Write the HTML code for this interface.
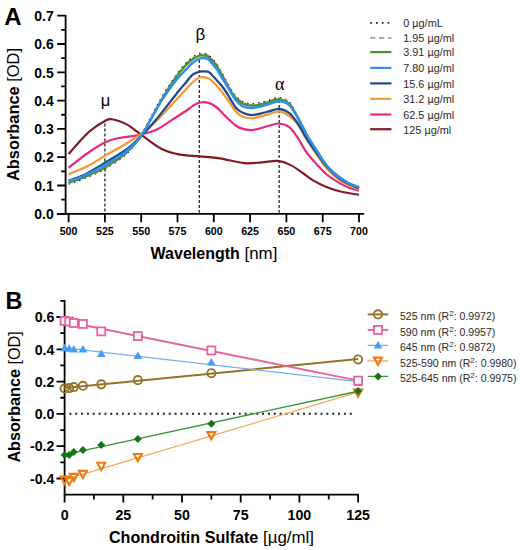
<!DOCTYPE html>
<html><head><meta charset="utf-8"><title>Absorbance spectra</title>
<style>html,body{margin:0;padding:0;background:#fff;width:520px;height:550px;overflow:hidden}svg{display:block}</style>
</head><body>
<svg width="520" height="550" viewBox="0 0 520 550" font-family='"Liberation Sans", sans-serif'><text x="4.2" y="24.7" font-size="24" font-weight="bold">A</text>
<path d="M65.6,15 V214.7" stroke="#000" stroke-width="1.8" fill="none"/>
<path d="M57.2,213.80 H65.6 M57.2,185.50 H65.6 M57.2,157.20 H65.6 M57.2,128.90 H65.6 M57.2,100.60 H65.6 M57.2,72.30 H65.6 M57.2,44.00 H65.6 M57.2,15.70 H65.6 M61.2,199.65 H65.6 M61.2,171.35 H65.6 M61.2,143.05 H65.6 M61.2,114.75 H65.6 M61.2,86.45 H65.6 M61.2,58.15 H65.6 M61.2,29.85 H65.6" stroke="#000" stroke-width="1.8" fill="none"/>
<path d="M56.8,213.80 H364.2" stroke="#000" stroke-width="1.8" fill="none"/>
<path d="M68.60,213.80 V222.2 M104.90,213.80 V222.2 M141.20,213.80 V222.2 M177.50,213.80 V222.2 M213.80,213.80 V222.2 M250.10,213.80 V222.2 M286.40,213.80 V222.2 M322.70,213.80 V222.2 M359.00,213.80 V222.2" stroke="#000" stroke-width="1.8" fill="none"/>
<text x="53.8" y="219.00" font-size="14" font-weight="bold" text-anchor="end">0.0</text>
<text x="53.8" y="190.70" font-size="14" font-weight="bold" text-anchor="end">0.1</text>
<text x="53.8" y="162.40" font-size="14" font-weight="bold" text-anchor="end">0.2</text>
<text x="53.8" y="134.10" font-size="14" font-weight="bold" text-anchor="end">0.3</text>
<text x="53.8" y="105.80" font-size="14" font-weight="bold" text-anchor="end">0.4</text>
<text x="53.8" y="77.50" font-size="14" font-weight="bold" text-anchor="end">0.5</text>
<text x="53.8" y="49.20" font-size="14" font-weight="bold" text-anchor="end">0.6</text>
<text x="53.8" y="20.90" font-size="14" font-weight="bold" text-anchor="end">0.7</text>
<text x="68.60" y="235.4" font-size="10.7" font-weight="bold" text-anchor="middle">500</text>
<text x="104.90" y="235.4" font-size="10.7" font-weight="bold" text-anchor="middle">525</text>
<text x="141.20" y="235.4" font-size="10.7" font-weight="bold" text-anchor="middle">550</text>
<text x="177.50" y="235.4" font-size="10.7" font-weight="bold" text-anchor="middle">575</text>
<text x="213.80" y="235.4" font-size="10.7" font-weight="bold" text-anchor="middle">600</text>
<text x="250.10" y="235.4" font-size="10.7" font-weight="bold" text-anchor="middle">625</text>
<text x="286.40" y="235.4" font-size="10.7" font-weight="bold" text-anchor="middle">650</text>
<text x="322.70" y="235.4" font-size="10.7" font-weight="bold" text-anchor="middle">675</text>
<text x="359.00" y="235.4" font-size="10.7" font-weight="bold" text-anchor="middle">700</text>
<text x="150.6" y="259.3" font-size="16"><tspan font-weight="bold">Wavelength</tspan><tspan font-size="16.9"> [nm]</tspan></text>
<text transform="translate(18.8,181) rotate(-90)" x="0" y="0" font-size="16.4"><tspan font-weight="bold">Absorbance</tspan> [OD]</text>
<path d="M104.90,123.5 V212.8" stroke="#000" stroke-width="1.1" stroke-dasharray="3 2" fill="none"/>
<path d="M199.28,60.0 V212.8" stroke="#000" stroke-width="1.1" stroke-dasharray="3 2" fill="none"/>
<path d="M279.14,100.0 V212.8" stroke="#000" stroke-width="1.1" stroke-dasharray="3 2" fill="none"/>
<path d="M68.60,183.80 C71.02,182.95 77.07,181.21 83.12,178.71 C89.17,176.21 97.64,173.00 104.90,168.80 C112.16,164.61 120.63,159.23 126.68,153.52 C132.73,147.81 137.09,140.69 141.20,134.56 C145.31,128.43 147.73,123.24 151.36,116.73 C154.99,110.22 158.62,102.72 162.98,95.51 C167.34,88.29 173.63,78.81 177.50,73.43 C181.37,68.06 183.79,65.84 186.21,63.24 C188.63,60.65 190.08,59.33 192.02,57.87 C193.96,56.40 196.25,55.18 197.83,54.47 C199.40,53.76 199.88,53.62 201.46,53.62 C203.03,53.62 205.69,53.81 207.27,54.47 C208.84,55.13 209.42,56.12 210.90,57.58 C212.37,59.05 214.67,61.31 216.12,63.24 C217.58,65.18 217.33,65.13 219.61,69.19 C221.88,73.24 227.11,83.10 229.77,87.58 C232.43,92.06 233.40,93.67 235.58,96.07 C237.76,98.48 240.18,100.69 242.84,102.02 C245.50,103.34 248.65,103.85 251.55,104.00 C254.46,104.14 257.36,103.43 260.26,102.86 C263.17,102.30 265.83,101.45 268.98,100.60 C272.12,99.75 275.75,97.49 279.14,97.77 C282.53,98.05 286.16,98.85 289.30,102.30 C292.45,105.74 295.11,112.91 298.02,118.43 C300.92,123.95 303.58,129.84 306.73,135.41 C309.87,140.97 313.50,146.59 316.89,151.82 C320.28,157.06 323.43,162.53 327.06,166.82 C330.69,171.11 335.04,174.70 338.67,177.58 C342.30,180.45 345.45,182.34 348.84,184.09 C352.22,185.83 357.31,187.39 359.00,188.05" stroke="#111" stroke-width="1.80" fill="none" stroke-linejoin="round" stroke-dasharray="1.6 4"/>
<path d="M68.60,183.24 C71.02,182.39 77.07,180.64 83.12,178.14 C89.17,175.64 97.64,172.43 104.90,168.24 C112.16,164.04 120.63,158.47 126.68,152.96 C132.73,147.44 137.09,141.07 141.20,135.13 C145.31,129.18 147.73,123.81 151.36,117.30 C154.99,110.79 158.62,103.29 162.98,96.07 C167.34,88.86 173.63,79.38 177.50,74.00 C181.37,68.62 183.79,66.40 186.21,63.81 C188.63,61.22 190.08,59.90 192.02,58.43 C193.96,56.97 196.25,55.74 197.83,55.04 C199.40,54.33 199.88,54.19 201.46,54.19 C203.03,54.19 205.69,54.38 207.27,55.04 C208.84,55.70 209.42,56.69 210.90,58.15 C212.37,59.61 214.67,61.88 216.12,63.81 C217.58,65.74 217.33,65.70 219.61,69.75 C221.88,73.81 227.11,83.67 229.77,88.15 C232.43,92.63 233.40,94.23 235.58,96.64 C237.76,99.04 240.18,101.26 242.84,102.58 C245.50,103.90 248.65,104.42 251.55,104.56 C254.46,104.70 257.36,104.00 260.26,103.43 C263.17,102.86 265.83,102.02 268.98,101.17 C272.12,100.32 275.75,98.05 279.14,98.34 C282.53,98.62 286.16,99.52 289.30,102.86 C292.45,106.21 295.11,113.00 298.02,118.43 C300.92,123.85 303.58,129.84 306.73,135.41 C309.87,140.97 313.50,146.59 316.89,151.82 C320.28,157.06 323.43,162.53 327.06,166.82 C330.69,171.11 335.04,174.70 338.67,177.58 C342.30,180.45 345.45,182.34 348.84,184.09 C352.22,185.83 357.31,187.39 359.00,188.05" stroke="#9a9a9a" stroke-width="1.60" fill="none" stroke-linejoin="round" stroke-dasharray="4 3"/>
<path d="M68.60,154.09 C70.29,152.15 75.13,146.40 78.76,142.48 C82.39,138.57 86.02,134.18 90.38,130.60 C94.74,127.01 101.27,122.86 104.90,120.98 C108.53,119.09 108.53,118.71 112.16,119.28 C115.79,119.84 122.57,122.34 126.68,124.37 C130.79,126.40 134.18,129.56 136.84,131.45 C139.51,133.33 138.66,132.86 142.65,135.69 C146.64,138.52 154.75,145.31 160.80,148.43 C166.85,151.54 172.54,153.05 178.95,154.37 C185.37,155.69 192.50,155.69 199.28,156.35 C206.06,157.01 212.11,157.20 219.61,158.33 C227.11,159.46 237.27,162.48 244.29,163.14 C251.31,163.80 256.15,162.67 261.72,162.29 C267.28,161.92 272.85,160.41 277.69,160.88 C282.53,161.35 286.64,163.14 290.76,165.12 C294.87,167.11 298.74,170.27 302.37,172.77 C306.00,175.26 308.42,177.72 312.54,180.12 C316.65,182.53 322.22,185.26 327.06,187.20 C331.90,189.13 336.25,190.45 341.58,191.73 C346.90,193.00 356.10,194.32 359.00,194.84" stroke="#821a26" stroke-width="2.20" fill="none" stroke-linejoin="round"/>
<path d="M68.60,167.67 C71.75,165.27 81.43,157.44 87.48,153.24 C93.53,149.04 99.58,145.03 104.90,142.48 C110.22,139.94 113.85,139.18 119.42,137.96 C124.99,136.73 132.25,136.45 138.30,135.13 C144.35,133.81 150.15,132.53 155.72,130.03 C161.29,127.53 166.61,123.33 171.69,120.13 C176.77,116.92 182.10,113.52 186.21,110.79 C190.33,108.05 192.99,105.13 196.38,103.71 C199.76,102.30 203.39,101.87 206.54,102.30 C209.69,102.72 212.11,103.95 215.25,106.26 C218.40,108.57 222.03,112.96 225.42,116.17 C228.80,119.37 232.68,123.38 235.58,125.50 C238.48,127.63 240.18,128.15 242.84,128.90 C245.50,129.65 248.65,130.13 251.55,130.03 C254.46,129.94 257.36,129.04 260.26,128.33 C263.17,127.63 265.83,126.59 268.98,125.79 C272.12,124.99 275.75,123.29 279.14,123.52 C282.53,123.76 286.16,124.75 289.30,127.20 C292.45,129.65 295.11,133.99 298.02,138.24 C300.92,142.48 303.58,148.29 306.73,152.67 C309.87,157.06 313.50,160.88 316.89,164.56 C320.28,168.24 323.43,171.73 327.06,174.75 C330.69,177.76 335.04,180.50 338.67,182.67 C342.30,184.84 345.45,186.44 348.84,187.76 C352.22,189.08 357.31,190.12 359.00,190.59" stroke="#e8297f" stroke-width="2.20" fill="none" stroke-linejoin="round"/>
<path d="M68.60,174.18 C71.75,172.86 81.43,169.32 87.48,166.26 C93.53,163.19 98.61,159.46 104.90,155.79 C111.19,152.11 119.42,147.63 125.23,144.18 C131.04,140.74 134.42,139.14 139.75,135.13 C145.07,131.12 150.64,126.49 157.17,120.13 C163.71,113.76 172.42,103.76 178.95,96.92 C185.49,90.08 191.78,82.30 196.38,79.09 C200.97,75.88 203.39,76.83 206.54,77.68 C209.69,78.53 212.59,81.69 215.25,84.19 C217.91,86.69 220.09,89.56 222.51,92.68 C224.93,95.79 227.59,99.75 229.77,102.86 C231.95,105.98 233.40,109.04 235.58,111.35 C237.76,113.67 240.18,115.55 242.84,116.73 C245.50,117.91 248.65,118.43 251.55,118.43 C254.46,118.43 257.36,117.44 260.26,116.73 C263.17,116.02 265.83,115.08 268.98,114.18 C272.12,113.29 275.75,111.02 279.14,111.35 C282.53,111.68 286.16,113.95 289.30,116.17 C292.45,118.38 295.11,120.74 298.02,124.66 C300.92,128.57 303.58,134.61 306.73,139.65 C309.87,144.70 313.50,150.08 316.89,154.94 C320.28,159.79 323.43,164.75 327.06,168.80 C330.69,172.86 335.04,176.54 338.67,179.27 C342.30,182.01 345.45,183.57 348.84,185.22 C352.22,186.87 357.31,188.52 359.00,189.18" stroke="#f29a34" stroke-width="2.30" fill="none" stroke-linejoin="round"/>
<path d="M68.60,180.69 C71.02,179.79 77.07,178.28 83.12,175.31 C89.17,172.34 97.64,167.20 104.90,162.86 C112.16,158.52 120.63,153.71 126.68,149.28 C132.73,144.84 136.36,141.12 141.20,136.26 C146.04,131.40 149.43,127.72 155.72,120.13 C162.01,112.53 173.87,97.02 178.95,90.70 C184.03,84.37 184.03,84.80 186.21,82.21 C188.39,79.61 190.08,76.78 192.02,75.13 C193.96,73.48 196.25,72.91 197.83,72.30 C199.40,71.69 199.76,71.55 201.46,71.45 C203.15,71.36 206.42,71.31 207.99,71.73 C209.56,72.16 209.69,72.87 210.90,74.00 C212.11,75.13 213.32,76.40 215.25,78.53 C217.19,80.65 220.09,83.53 222.51,86.73 C224.93,89.94 227.59,94.33 229.77,97.77 C231.95,101.21 233.40,104.89 235.58,107.39 C237.76,109.89 240.18,111.50 242.84,112.77 C245.50,114.04 248.65,114.89 251.55,115.03 C254.46,115.17 257.36,114.23 260.26,113.62 C263.17,113.00 265.83,112.16 268.98,111.35 C272.12,110.55 275.75,108.52 279.14,108.81 C282.53,109.09 286.16,110.55 289.30,113.05 C292.45,115.55 295.11,119.56 298.02,123.81 C300.92,128.05 303.58,133.62 306.73,138.52 C309.87,143.43 313.50,148.47 316.89,153.24 C320.28,158.00 323.43,163.00 327.06,167.11 C330.69,171.21 335.04,175.03 338.67,177.86 C342.30,180.69 345.45,182.39 348.84,184.09 C352.22,185.78 357.31,187.39 359.00,188.05" stroke="#1f4a86" stroke-width="2.30" fill="none" stroke-linejoin="round"/>
<path d="M68.60,182.67 C71.02,181.82 77.07,180.08 83.12,177.58 C89.17,175.08 97.64,171.87 104.90,167.67 C112.16,163.47 120.63,157.62 126.68,152.39 C132.73,147.15 137.09,141.92 141.20,136.26 C145.31,130.60 147.73,124.94 151.36,118.43 C154.99,111.92 158.62,104.42 162.98,97.20 C167.34,89.99 173.63,80.51 177.50,75.13 C181.37,69.75 183.79,67.54 186.21,64.94 C188.63,62.35 190.08,61.03 192.02,59.56 C193.96,58.10 196.25,56.88 197.83,56.17 C199.40,55.46 199.88,55.32 201.46,55.32 C203.03,55.32 205.69,55.51 207.27,56.17 C208.84,56.83 209.42,57.82 210.90,59.28 C212.37,60.74 214.67,63.01 216.12,64.94 C217.58,66.88 217.33,66.83 219.61,70.89 C221.88,74.94 227.11,84.80 229.77,89.28 C232.43,93.76 233.40,95.36 235.58,97.77 C237.76,100.18 240.18,102.39 242.84,103.71 C245.50,105.03 248.65,105.55 251.55,105.69 C254.46,105.84 257.36,105.13 260.26,104.56 C263.17,104.00 265.83,103.15 268.98,102.30 C272.12,101.45 275.75,99.19 279.14,99.47 C282.53,99.75 286.16,100.98 289.30,104.00 C292.45,107.01 295.11,112.49 298.02,117.58 C300.92,122.67 303.58,128.99 306.73,134.56 C309.87,140.13 313.50,145.74 316.89,150.97 C320.28,156.21 323.43,161.68 327.06,165.97 C330.69,170.27 335.04,173.85 338.67,176.73 C342.30,179.60 345.45,181.49 348.84,183.24 C352.22,184.98 357.31,186.54 359.00,187.20" stroke="#4f8f2a" stroke-width="2.20" fill="none" stroke-linejoin="round"/>
<path d="M68.60,181.25 C71.02,180.41 77.07,178.85 83.12,176.16 C89.17,173.47 97.64,169.32 104.90,165.12 C112.16,160.93 120.63,155.83 126.68,150.97 C132.73,146.12 137.09,141.40 141.20,135.98 C145.31,130.55 147.73,124.70 151.36,118.43 C154.99,112.16 158.62,104.99 162.98,98.34 C167.34,91.69 173.63,83.34 177.50,78.53 C181.37,73.72 183.79,72.02 186.21,69.47 C188.63,66.92 190.08,64.94 192.02,63.24 C193.96,61.55 196.25,60.13 197.83,59.28 C199.40,58.43 199.88,58.24 201.46,58.15 C203.03,58.06 205.69,58.10 207.27,58.72 C208.84,59.33 209.42,60.23 210.90,61.83 C212.37,63.43 214.67,66.36 216.12,68.34 C217.58,70.32 217.33,70.04 219.61,73.72 C221.88,77.39 227.11,86.03 229.77,90.41 C232.43,94.80 233.40,97.39 235.58,100.03 C237.76,102.68 240.18,104.94 242.84,106.26 C245.50,107.58 248.65,107.91 251.55,107.96 C254.46,108.01 257.36,107.20 260.26,106.54 C263.17,105.88 265.83,104.89 268.98,104.00 C272.12,103.10 275.75,100.98 279.14,101.17 C282.53,101.35 286.16,102.25 289.30,105.13 C292.45,108.01 295.11,113.48 298.02,118.43 C300.92,123.38 303.58,129.42 306.73,134.84 C309.87,140.27 313.50,145.79 316.89,150.97 C320.28,156.16 323.43,161.68 327.06,165.97 C330.69,170.27 335.04,173.85 338.67,176.73 C342.30,179.60 345.45,181.49 348.84,183.24 C352.22,184.98 357.31,186.54 359.00,187.20" stroke="#2f8fea" stroke-width="2.50" fill="none" stroke-linejoin="round"/>
<text x="105.6" y="106.4" font-size="16.5" text-anchor="middle">μ</text>
<text x="200.3" y="39.6" font-size="17" text-anchor="middle">β</text>
<text x="279.8" y="89.8" font-size="18" text-anchor="middle" font-family="'Liberation Serif', serif">α</text>
<path d="M370.2,22.90 H391.4" stroke="#222" stroke-width="1.7" stroke-dasharray="1.7 4.1" fill="none"/>
<text x="403.3" y="27.20" font-size="10.85" fill="#2a2a2a">0 µg/mL</text>
<path d="M370.2,37.90 H391.4" stroke="#9a9a9a" stroke-width="1.7" stroke-dasharray="5 4" fill="none"/>
<text x="403.3" y="42.20" font-size="10.85" fill="#2a2a2a">1.95 µg/ml</text>
<path d="M370.2,52.10 H391.4" stroke="#4f8f2a" stroke-width="2.2" fill="none"/>
<text x="403.3" y="56.40" font-size="10.85" fill="#2a2a2a">3.91 µg/ml</text>
<path d="M370.2,67.90 H391.4" stroke="#2f8fea" stroke-width="2.2" fill="none"/>
<text x="403.3" y="72.20" font-size="10.85" fill="#2a2a2a">7.80 µg/ml</text>
<path d="M370.2,83.40 H391.4" stroke="#1f4a86" stroke-width="2.2" fill="none"/>
<text x="403.3" y="87.70" font-size="10.85" fill="#2a2a2a">15.6 µg/ml</text>
<path d="M370.2,98.80 H391.4" stroke="#f29a34" stroke-width="2.2" fill="none"/>
<text x="403.3" y="103.10" font-size="10.85" fill="#2a2a2a">31.2 µg/ml</text>
<path d="M370.2,114.50 H391.4" stroke="#e8297f" stroke-width="2.2" fill="none"/>
<text x="403.3" y="118.80" font-size="10.85" fill="#2a2a2a">62.5 µg/ml</text>
<path d="M370.2,129.20 H391.4" stroke="#821a26" stroke-width="2.2" fill="none"/>
<text x="403.3" y="133.50" font-size="10.85" fill="#2a2a2a">125 µg/ml</text>
<text x="5.4" y="309" font-size="23.5" font-weight="bold">B</text>
<path d="M64.6,300 V495.5 M63.7,494.6 H358.9" stroke="#000" stroke-width="1.8" fill="none"/>
<path d="M56.5,478.50 H64.6 M56.5,446.20 H64.6 M56.5,413.90 H64.6 M56.5,381.60 H64.6 M56.5,349.30 H64.6 M56.5,317.00 H64.6 M60.3,462.35 H64.6 M60.3,430.05 H64.6 M60.3,397.75 H64.6 M60.3,365.45 H64.6 M60.3,333.15 H64.6 M60.3,300.85 H64.6 M64.60,494.6 V502.6 M123.30,494.6 V502.6 M182.00,494.6 V502.6 M240.70,494.6 V502.6 M299.40,494.6 V502.6 M358.10,494.6 V502.6 M93.95,494.6 V499.6 M152.65,494.6 V499.6 M211.35,494.6 V499.6 M270.05,494.6 V499.6 M328.75,494.6 V499.6" stroke="#000" stroke-width="1.8" fill="none"/>
<text x="54.4" y="483.70" font-size="14.2" font-weight="bold" text-anchor="end">-0.4</text>
<text x="54.4" y="451.40" font-size="14.2" font-weight="bold" text-anchor="end">-0.2</text>
<text x="54.4" y="419.10" font-size="14.2" font-weight="bold" text-anchor="end">0.0</text>
<text x="54.4" y="386.80" font-size="14.2" font-weight="bold" text-anchor="end">0.2</text>
<text x="54.4" y="354.50" font-size="14.2" font-weight="bold" text-anchor="end">0.4</text>
<text x="54.4" y="322.20" font-size="14.2" font-weight="bold" text-anchor="end">0.6</text>
<text x="64.60" y="519.9" font-size="14.2" font-weight="bold" text-anchor="middle">0</text>
<text x="123.30" y="519.9" font-size="14.2" font-weight="bold" text-anchor="middle">25</text>
<text x="182.00" y="519.9" font-size="14.2" font-weight="bold" text-anchor="middle">50</text>
<text x="240.70" y="519.9" font-size="14.2" font-weight="bold" text-anchor="middle">75</text>
<text x="299.40" y="519.9" font-size="14.2" font-weight="bold" text-anchor="middle">100</text>
<text x="358.10" y="519.9" font-size="14.2" font-weight="bold" text-anchor="middle">125</text>
<text x="109" y="542.6" font-size="16.1"><tspan font-weight="bold">Chondroitin Sulfate</tspan><tspan font-size="16.9"> [µg/ml]</tspan></text>
<text transform="translate(19.8,462.6) rotate(-90)" font-size="16.2"><tspan font-weight="bold">Absorbance</tspan> [OD]</text>
<path d="M69.4,413.7 H353.5" stroke="#222" stroke-width="2" stroke-dasharray="2 3.84" fill="none"/>
<path d="M64.60,387.99 L358.10,359.12" stroke="#96722a" stroke-width="2.0" fill="none"/>
<path d="M64.60,321.25 L358.10,380.63" stroke="#e8649e" stroke-width="2.0" fill="none"/>
<path d="M64.60,347.83 L358.10,381.69" stroke="#74aef0" stroke-width="1.3" fill="none"/>
<path d="M64.60,479.73 L358.10,392.06" stroke="#f5a85a" stroke-width="1.3" fill="none"/>
<path d="M64.60,454.52 L358.10,391.26" stroke="#3a953a" stroke-width="1.3" fill="none"/>
<path d="M64.60,343.71 L69.00,351.21 L60.20,351.21 Z" fill="#4a9cf0"/>
<path d="M69.18,344.19 L73.58,351.69 L64.78,351.69 Z" fill="#4a9cf0"/>
<path d="M73.78,345.00 L78.18,352.50 L69.38,352.50 Z" fill="#4a9cf0"/>
<path d="M82.91,345.00 L87.31,352.50 L78.51,352.50 Z" fill="#4a9cf0"/>
<path d="M101.23,349.52 L105.63,357.02 L96.83,357.02 Z" fill="#4a9cf0"/>
<path d="M137.86,351.46 L142.26,358.96 L133.46,358.96 Z" fill="#4a9cf0"/>
<path d="M211.35,357.92 L215.75,365.42 L206.95,365.42 Z" fill="#4a9cf0"/>
<path d="M358.10,378.59 L362.50,386.09 L353.70,386.09 Z" fill="#4a9cf0"/>
<rect x="60.60" y="316.88" width="8.0" height="8.0" fill="#fff" stroke="#e8609c" stroke-width="1.8"/>
<rect x="65.18" y="317.52" width="8.0" height="8.0" fill="#fff" stroke="#e8609c" stroke-width="1.8"/>
<rect x="69.78" y="318.98" width="8.0" height="8.0" fill="#fff" stroke="#e8609c" stroke-width="1.8"/>
<rect x="78.91" y="319.94" width="8.0" height="8.0" fill="#fff" stroke="#e8609c" stroke-width="1.8"/>
<rect x="97.23" y="327.37" width="8.0" height="8.0" fill="#fff" stroke="#e8609c" stroke-width="1.8"/>
<rect x="133.86" y="332.06" width="8.0" height="8.0" fill="#fff" stroke="#e8609c" stroke-width="1.8"/>
<rect x="207.35" y="346.43" width="8.0" height="8.0" fill="#fff" stroke="#e8609c" stroke-width="1.8"/>
<rect x="354.10" y="376.63" width="8.0" height="8.0" fill="#fff" stroke="#e8609c" stroke-width="1.8"/>
<circle cx="64.60" cy="388.54" r="4.1" fill="none" stroke="#96722a" stroke-width="1.9"/>
<circle cx="69.18" cy="388.06" r="4.1" fill="none" stroke="#96722a" stroke-width="1.9"/>
<circle cx="73.78" cy="387.09" r="4.1" fill="none" stroke="#96722a" stroke-width="1.9"/>
<circle cx="82.91" cy="385.80" r="4.1" fill="none" stroke="#96722a" stroke-width="1.9"/>
<circle cx="101.23" cy="384.35" r="4.1" fill="none" stroke="#96722a" stroke-width="1.9"/>
<circle cx="137.86" cy="380.15" r="4.1" fill="none" stroke="#96722a" stroke-width="1.9"/>
<circle cx="211.35" cy="373.20" r="4.1" fill="none" stroke="#96722a" stroke-width="1.9"/>
<circle cx="358.10" cy="359.47" r="4.1" fill="none" stroke="#96722a" stroke-width="1.9"/>
<path d="M60.60,476.65 L68.60,476.65 L64.60,483.95 Z" fill="none" stroke="#f07a10" stroke-width="2.1" stroke-linejoin="miter"/>
<path d="M65.18,477.78 L73.18,477.78 L69.18,485.08 Z" fill="none" stroke="#f07a10" stroke-width="2.1" stroke-linejoin="miter"/>
<path d="M69.78,473.91 L77.78,473.91 L73.78,481.21 Z" fill="none" stroke="#f07a10" stroke-width="2.1" stroke-linejoin="miter"/>
<path d="M78.91,470.84 L86.91,470.84 L82.91,478.14 Z" fill="none" stroke="#f07a10" stroke-width="2.1" stroke-linejoin="miter"/>
<path d="M97.23,462.76 L105.23,462.76 L101.23,470.06 Z" fill="none" stroke="#f07a10" stroke-width="2.1" stroke-linejoin="miter"/>
<path d="M133.86,454.04 L141.86,454.04 L137.86,461.34 Z" fill="none" stroke="#f07a10" stroke-width="2.1" stroke-linejoin="miter"/>
<path d="M207.35,432.08 L215.35,432.08 L211.35,439.38 Z" fill="none" stroke="#f07a10" stroke-width="2.1" stroke-linejoin="miter"/>
<path d="M354.10,389.44 L362.10,389.44 L358.10,396.74 Z" fill="none" stroke="#f07a10" stroke-width="2.1" stroke-linejoin="miter"/>
<path d="M64.60,450.92 L68.60,454.92 L64.60,458.92 L60.60,454.92 Z" fill="#137813"/>
<path d="M69.18,450.92 L73.18,454.92 L69.18,458.92 L65.18,454.92 Z" fill="#137813"/>
<path d="M73.78,448.01 L77.78,452.01 L73.78,456.01 L69.78,452.01 Z" fill="#137813"/>
<path d="M82.91,445.91 L86.91,449.91 L82.91,453.91 L78.91,449.91 Z" fill="#137813"/>
<path d="M101.23,441.07 L105.23,445.07 L101.23,449.07 L97.23,445.07 Z" fill="#137813"/>
<path d="M137.86,435.09 L141.86,439.09 L137.86,443.09 L133.86,439.09 Z" fill="#137813"/>
<path d="M211.35,419.75 L215.35,423.75 L211.35,427.75 L207.35,423.75 Z" fill="#137813"/>
<path d="M358.10,386.97 L362.10,390.97 L358.10,394.97 L354.10,390.97 Z" fill="#137813"/>
<path d="M367.7,314.40 H388.3" stroke="#96722a" stroke-width="2.0" fill="none"/>
<circle cx="378.00" cy="314.40" r="4.1" fill="none" stroke="#96722a" stroke-width="1.9"/>
<text x="400" y="320.30" font-size="10.55" fill="#2a2a2a">525 nm (R<tspan font-size="8" dy="-3.9">2</tspan><tspan dy="3.9">: 0.9972)</tspan></text>
<path d="M367.7,329.90 H388.3" stroke="#e8649e" stroke-width="2.0" fill="none"/>
<rect x="374.00" y="325.90" width="8.0" height="8.0" fill="#fff" stroke="#e8609c" stroke-width="1.8"/>
<text x="400" y="335.80" font-size="10.55" fill="#2a2a2a">590 nm (R<tspan font-size="8" dy="-3.9">2</tspan><tspan dy="3.9">: 0.9957)</tspan></text>
<path d="M367.7,345.40 H388.3" stroke="#74aef0" stroke-width="1.3" fill="none"/>
<path d="M378.00,341.10 L382.40,348.60 L373.60,348.60 Z" fill="#4a9cf0"/>
<text x="400" y="351.30" font-size="10.55" fill="#2a2a2a">645 nm (R<tspan font-size="8" dy="-3.9">2</tspan><tspan dy="3.9">: 0.9872)</tspan></text>
<path d="M367.7,360.90 H388.3" stroke="#f5a85a" stroke-width="1.3" fill="none"/>
<path d="M374.00,357.60 L382.00,357.60 L378.00,364.90 Z" fill="none" stroke="#f07a10" stroke-width="2.1" stroke-linejoin="miter"/>
<text x="400" y="366.80" font-size="10.55" fill="#2a2a2a">525-590 nm (R<tspan font-size="8" dy="-3.9">2</tspan><tspan dy="3.9">: 0.9980)</tspan></text>
<path d="M367.7,376.40 H388.3" stroke="#3a953a" stroke-width="1.3" fill="none"/>
<path d="M378.00,372.40 L382.00,376.40 L378.00,380.40 L374.00,376.40 Z" fill="#137813"/>
<text x="400" y="382.30" font-size="10.55" fill="#2a2a2a">525-645 nm (R<tspan font-size="8" dy="-3.9">2</tspan><tspan dy="3.9">: 0.9975)</tspan></text></svg>
</body></html>
